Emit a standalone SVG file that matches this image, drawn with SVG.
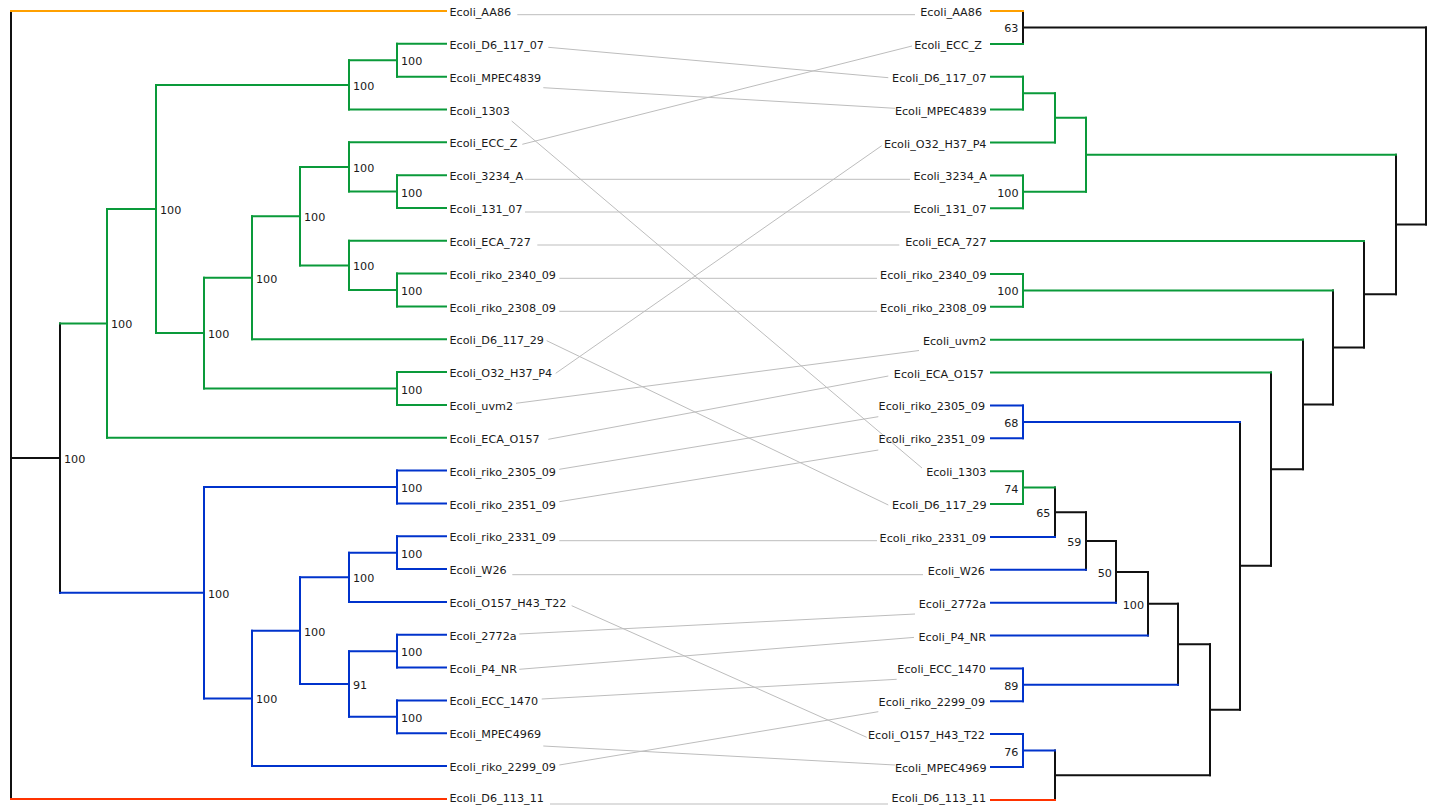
<svg xmlns="http://www.w3.org/2000/svg" width="1434" height="805" viewBox="0 0 1434 805">
<style>
.br{fill:none;stroke-width:2;stroke-linecap:square}
.k{stroke:#111}
.g{stroke:#0a9a3a}
.b{stroke:#0033cc}
.o{stroke:#ffa000}
.r{stroke:#ff3300}
.c{stroke:#bdbdbd;stroke-width:1;fill:none}
text{font-family:"DejaVu Sans","Liberation Sans",sans-serif;font-size:11.2px;fill:#1a1a1a}
.e{text-anchor:end}
</style>
<rect width="1434" height="805" fill="#fff"/>
<g id="connectors">
<line class="c" x1="517.3" y1="14.7" x2="915" y2="14.7"/>
<line class="c" x1="548.3" y1="47.3" x2="888.3" y2="77.7"/>
<line class="c" x1="543.3" y1="87.7" x2="895" y2="108.3"/>
<line class="c" x1="511.7" y1="121" x2="922" y2="468"/>
<line class="c" x1="522.3" y1="144.3" x2="912" y2="46"/>
<line class="c" x1="525" y1="179.3" x2="910" y2="179.3"/>
<line class="c" x1="525" y1="212" x2="910" y2="212"/>
<line class="c" x1="537.3" y1="245" x2="899.3" y2="245"/>
<line class="c" x1="559.3" y1="278.3" x2="877" y2="278.3"/>
<line class="c" x1="559.3" y1="311.3" x2="877" y2="311.3"/>
<line class="c" x1="546.7" y1="340.7" x2="888.3" y2="505"/>
<line class="c" x1="555.7" y1="373.3" x2="881.7" y2="145.7"/>
<line class="c" x1="516" y1="403.3" x2="919" y2="350.5"/>
<line class="c" x1="548.3" y1="439.3" x2="888.3" y2="376"/>
<line class="c" x1="559.3" y1="469.3" x2="878.3" y2="416.7"/>
<line class="c" x1="559.3" y1="501.7" x2="878.3" y2="450"/>
<line class="c" x1="559.3" y1="540.7" x2="877" y2="540.7"/>
<line class="c" x1="512.3" y1="574.7" x2="923" y2="574.7"/>
<line class="c" x1="571.7" y1="605.7" x2="866.7" y2="737.3"/>
<line class="c" x1="519.3" y1="634" x2="915" y2="614"/>
<line class="c" x1="519.3" y1="669.3" x2="914" y2="637.4"/>
<line class="c" x1="541.7" y1="699" x2="896.7" y2="679.3"/>
<line class="c" x1="543.3" y1="746" x2="895" y2="765"/>
<line class="c" x1="559.3" y1="765" x2="878.3" y2="711.7"/>
<line class="c" x1="550" y1="804" x2="888" y2="804"/>
</g>
<g id="left-tree">
<g id="L-root"><path class="br k" d="M11 11V798.9" stroke-width="2.5"/></g>
<g id="L-X"><path class="br k" d="M11 458H60M60 323.4V592.7"/><text x="64" y="463">100</text></g>
<g id="L-A"><path class="br g" d="M60 323.4H107M107 209V437.8"/><text x="111" y="328.4">100</text></g>
<g id="L-B"><path class="br g" d="M107 209H156M156 84.9V333.1"/><text x="160" y="214">100</text></g>
<g id="L-C"><path class="br g" d="M156 84.9H349M349 60.2V109.5"/><text x="353" y="89.9">100</text></g>
<g id="L-E"><path class="br g" d="M349 60.2H397M397 43.8V76.7"/><text x="401" y="65.2">100</text></g>
<g id="L-D"><path class="br g" d="M156 333.1H204M204 277.7V388.5"/><text x="208" y="338.1">100</text></g>
<g id="L-F"><path class="br g" d="M204 277.7H252M252 216.2V339.3"/><text x="256" y="282.7">100</text></g>
<g id="L-G"><path class="br g" d="M252 216.2H300M300 166.9V265.4"/><text x="304" y="221.2">100</text></g>
<g id="L-H"><path class="br g" d="M300 166.9H349M349 142.3V191.6"/><text x="353" y="171.9">100</text></g>
<g id="L-I"><path class="br g" d="M349 191.6H397M397 175.2V208"/><text x="401" y="196.6">100</text></g>
<g id="L-J"><path class="br g" d="M300 265.4H349M349 240.8V290.1"/><text x="353" y="270.4">100</text></g>
<g id="L-K"><path class="br g" d="M349 290.1H397M397 273.6V306.5"/><text x="401" y="295.1">100</text></g>
<g id="L-Ln"><path class="br g" d="M204 388.5H397M397 372.1V405"/><text x="401" y="393.5">100</text></g>
<g id="L-M"><path class="br b" d="M60 592.7H204M204 487V698.4"/><text x="208" y="597.7">100</text></g>
<g id="L-N"><path class="br b" d="M204 487H397M397 470.6V503.5"/><text x="401" y="492">100</text></g>
<g id="L-O"><path class="br b" d="M204 698.4H252M252 630.7V766.1"/><text x="256" y="703.4">100</text></g>
<g id="L-P"><path class="br b" d="M252 630.7H300M300 577.3V684"/><text x="304" y="635.7">100</text></g>
<g id="L-Q"><path class="br b" d="M300 577.3H349M349 552.7V601.9"/><text x="353" y="582.3">100</text></g>
<g id="L-R"><path class="br b" d="M349 552.7H397M397 536.3V569.1"/><text x="401" y="557.7">100</text></g>
<g id="L-S"><path class="br b" d="M300 684H349M349 651.2V716.8"/><text x="353" y="689">91</text></g>
<g id="L-T"><path class="br b" d="M349 651.2H397M397 634.8V667.6"/><text x="401" y="656.2">100</text></g>
<g id="L-U"><path class="br b" d="M349 716.8H397M397 700.4V733.3"/><text x="401" y="721.8">100</text></g>
<g id="L-AA86"><path class="br o" d="M11 11H446"/><text x="449.5" y="16">Ecoli_AA86</text></g>
<g id="L-D6_117_07"><path class="br g" d="M397 43.8H446"/><text x="449.5" y="48.8">Ecoli_D6_117_07</text></g>
<g id="L-MPEC4839"><path class="br g" d="M397 76.7H446"/><text x="449.5" y="81.7">Ecoli_MPEC4839</text></g>
<g id="L-1303"><path class="br g" d="M349 109.5H446"/><text x="449.5" y="114.5">Ecoli_1303</text></g>
<g id="L-ECC_Z"><path class="br g" d="M349 142.3H446"/><text x="449.5" y="147.3">Ecoli_ECC_Z</text></g>
<g id="L-3234_A"><path class="br g" d="M397 175.2H446"/><text x="449.5" y="180.2">Ecoli_3234_A</text></g>
<g id="L-131_07"><path class="br g" d="M397 208H446"/><text x="449.5" y="213">Ecoli_131_07</text></g>
<g id="L-ECA_727"><path class="br g" d="M349 240.8H446"/><text x="449.5" y="245.8">Ecoli_ECA_727</text></g>
<g id="L-riko_2340_09"><path class="br g" d="M397 273.6H446"/><text x="449.5" y="278.6">Ecoli_riko_2340_09</text></g>
<g id="L-riko_2308_09"><path class="br g" d="M397 306.5H446"/><text x="449.5" y="311.5">Ecoli_riko_2308_09</text></g>
<g id="L-D6_117_29"><path class="br g" d="M252 339.3H446"/><text x="449.5" y="344.3">Ecoli_D6_117_29</text></g>
<g id="L-O32_H37_P4"><path class="br g" d="M397 372.1H446"/><text x="449.5" y="377.1">Ecoli_O32_H37_P4</text></g>
<g id="L-uvm2"><path class="br g" d="M397 405H446"/><text x="449.5" y="410">Ecoli_uvm2</text></g>
<g id="L-ECA_O157"><path class="br g" d="M107 437.8H446"/><text x="449.5" y="442.8">Ecoli_ECA_O157</text></g>
<g id="L-riko_2305_09"><path class="br b" d="M397 470.6H446"/><text x="449.5" y="475.6">Ecoli_riko_2305_09</text></g>
<g id="L-riko_2351_09"><path class="br b" d="M397 503.5H446"/><text x="449.5" y="508.5">Ecoli_riko_2351_09</text></g>
<g id="L-riko_2331_09"><path class="br b" d="M397 536.3H446"/><text x="449.5" y="541.3">Ecoli_riko_2331_09</text></g>
<g id="L-W26"><path class="br b" d="M397 569.1H446"/><text x="449.5" y="574.1">Ecoli_W26</text></g>
<g id="L-O157_H43_T22"><path class="br b" d="M349 601.9H446"/><text x="449.5" y="606.9">Ecoli_O157_H43_T22</text></g>
<g id="L-2772a"><path class="br b" d="M397 634.8H446"/><text x="449.5" y="639.8">Ecoli_2772a</text></g>
<g id="L-P4_NR"><path class="br b" d="M397 667.6H446"/><text x="449.5" y="672.6">Ecoli_P4_NR</text></g>
<g id="L-ECC_1470"><path class="br b" d="M397 700.4H446"/><text x="449.5" y="705.4">Ecoli_ECC_1470</text></g>
<g id="L-MPEC4969"><path class="br b" d="M397 733.3H446"/><text x="449.5" y="738.3">Ecoli_MPEC4969</text></g>
<g id="L-riko_2299_09"><path class="br b" d="M252 766.1H446"/><text x="449.5" y="771.1">Ecoli_riko_2299_09</text></g>
<g id="L-D6_113_11"><path class="br r" d="M11 798.9H446"/><text x="449.5" y="801.5">Ecoli_D6_113_11</text></g>
</g>
<g id="right-tree">
<g id="R-root"><path class="br k" d="M1426 27.4V224.5"/></g>
<g id="R-n63"><path class="br k" d="M1426 27.4H1023M1023 11V43.9"/><text class="e" x="1018.5" y="32.4">63</text></g>
<g id="R-e"><path class="br k" d="M1426 224.5H1396M1396 154.8V294.3"/></g>
<g id="R-d"><path class="br g" d="M1396 154.8H1086M1086 117.8V191.8"/></g>
<g id="R-b"><path class="br g" d="M1086 117.8H1055M1055 93.2V142.5"/></g>
<g id="R-a"><path class="br g" d="M1055 93.2H1023M1023 76.7V109.6"/></g>
<g id="R-c"><path class="br g" d="M1086 191.8H1023M1023 175.4V208.2"/><text class="e" x="1018.5" y="196.8">100</text></g>
<g id="R-f"><path class="br k" d="M1396 294.3H1364M1364 241.1V347.4"/></g>
<g id="R-g"><path class="br k" d="M1364 347.4H1333M1333 290.4V404.5"/></g>
<g id="R-g2"><path class="br g" d="M1333 290.4H1023M1023 274V306.8"/><text class="e" x="1018.5" y="295.4">100</text></g>
<g id="R-h"><path class="br k" d="M1333 404.5H1303M1303 339.7V469.2"/></g>
<g id="R-i"><path class="br k" d="M1303 469.2H1271M1271 372.6V565.8"/></g>
<g id="R-j"><path class="br k" d="M1271 565.8H1240M1240 421.9V709.8"/></g>
<g id="R-n68"><path class="br b" d="M1240 421.9H1023M1023 405.4V438.3"/><text class="e" x="1018.5" y="426.9">68</text></g>
<g id="R-k"><path class="br k" d="M1240 709.8H1210M1210 644.3V775.2"/></g>
<g id="R-l"><path class="br k" d="M1210 644.3H1178M1178 603.7V684.8"/></g>
<g id="R-m"><path class="br k" d="M1178 603.7H1148M1148 571.9V635.5"/><text class="e" x="1144" y="608.7">100</text></g>
<g id="R-n50"><path class="br k" d="M1148 571.9H1116M1116 541V602.7"/><text class="e" x="1112" y="576.9">50</text></g>
<g id="R-n59"><path class="br k" d="M1116 541H1086M1086 512.3V569.8"/><text class="e" x="1081.5" y="546">59</text></g>
<g id="R-n65"><path class="br k" d="M1086 512.3H1055M1055 487.6V536.9"/><text class="e" x="1050.5" y="517.3">65</text></g>
<g id="R-n74"><path class="br g" d="M1055 487.6H1023M1023 471.2V504"/><text class="e" x="1018.5" y="492.6">74</text></g>
<g id="R-n89"><path class="br b" d="M1178 684.8H1023M1023 668.4V701.3"/><text class="e" x="1018.5" y="689.8">89</text></g>
<g id="R-n"><path class="br k" d="M1210 775.2H1055M1055 750.6V799.9"/></g>
<g id="R-n76"><path class="br b" d="M1055 750.6H1023M1023 734.1V767"/><text class="e" x="1018.5" y="755.6">76</text></g>
<g id="R-AA86"><path class="br o" d="M991 11H1023"/><text class="e" x="982" y="16">Ecoli_AA86</text></g>
<g id="R-ECC_Z"><path class="br g" d="M991 43.9H1023"/><text class="e" x="982" y="48.9">Ecoli_ECC_Z</text></g>
<g id="R-D6_117_07"><path class="br g" d="M991 76.7H1023"/><text class="e" x="986.5" y="81.7">Ecoli_D6_117_07</text></g>
<g id="R-MPEC4839"><path class="br g" d="M991 109.6H1023"/><text class="e" x="986.5" y="114.6">Ecoli_MPEC4839</text></g>
<g id="R-O32_H37_P4"><path class="br g" d="M991 142.5H1055"/><text class="e" x="986.5" y="147.5">Ecoli_O32_H37_P4</text></g>
<g id="R-3234_A"><path class="br g" d="M991 175.4H1023"/><text class="e" x="987" y="180.4">Ecoli_3234_A</text></g>
<g id="R-131_07"><path class="br g" d="M991 208.2H1023"/><text class="e" x="986.5" y="213.2">Ecoli_131_07</text></g>
<g id="R-ECA_727"><path class="br g" d="M991 241.1H1364"/><text class="e" x="986.5" y="246.1">Ecoli_ECA_727</text></g>
<g id="R-riko_2340_09"><path class="br g" d="M991 274H1023"/><text class="e" x="986.5" y="279">Ecoli_riko_2340_09</text></g>
<g id="R-riko_2308_09"><path class="br g" d="M991 306.8H1023"/><text class="e" x="986.5" y="311.8">Ecoli_riko_2308_09</text></g>
<g id="R-uvm2"><path class="br g" d="M991 339.7H1303"/><text class="e" x="986.5" y="344.7">Ecoli_uvm2</text></g>
<g id="R-ECA_O157"><path class="br g" d="M991 372.6H1271"/><text class="e" x="984" y="377.6">Ecoli_ECA_O157</text></g>
<g id="R-riko_2305_09"><path class="br b" d="M991 405.4H1023"/><text class="e" x="985" y="410.4">Ecoli_riko_2305_09</text></g>
<g id="R-riko_2351_09"><path class="br b" d="M991 438.3H1023"/><text class="e" x="985" y="443.3">Ecoli_riko_2351_09</text></g>
<g id="R-1303"><path class="br g" d="M991 471.2H1023"/><text class="e" x="986.5" y="476.2">Ecoli_1303</text></g>
<g id="R-D6_117_29"><path class="br g" d="M991 504H1023"/><text class="e" x="986.5" y="509">Ecoli_D6_117_29</text></g>
<g id="R-riko_2331_09"><path class="br b" d="M991 536.9H1055"/><text class="e" x="986" y="541.9">Ecoli_riko_2331_09</text></g>
<g id="R-W26"><path class="br b" d="M991 569.8H1086"/><text class="e" x="985" y="574.8">Ecoli_W26</text></g>
<g id="R-2772a"><path class="br b" d="M991 602.7H1116"/><text class="e" x="986" y="607.7">Ecoli_2772a</text></g>
<g id="R-P4_NR"><path class="br b" d="M991 635.5H1148"/><text class="e" x="986" y="640.5">Ecoli_P4_NR</text></g>
<g id="R-ECC_1470"><path class="br b" d="M991 668.4H1023"/><text class="e" x="986" y="673.4">Ecoli_ECC_1470</text></g>
<g id="R-riko_2299_09"><path class="br b" d="M991 701.3H1023"/><text class="e" x="985" y="706.3">Ecoli_riko_2299_09</text></g>
<g id="R-O157_H43_T22"><path class="br b" d="M991 734.1H1023"/><text class="e" x="985" y="739.1">Ecoli_O157_H43_T22</text></g>
<g id="R-MPEC4969"><path class="br b" d="M991 767H1023"/><text class="e" x="986.5" y="772">Ecoli_MPEC4969</text></g>
<g id="R-D6_113_11"><path class="br r" d="M991 799.9H1055"/><text class="e" x="986" y="801.5">Ecoli_D6_113_11</text></g>
</g>
</svg>
